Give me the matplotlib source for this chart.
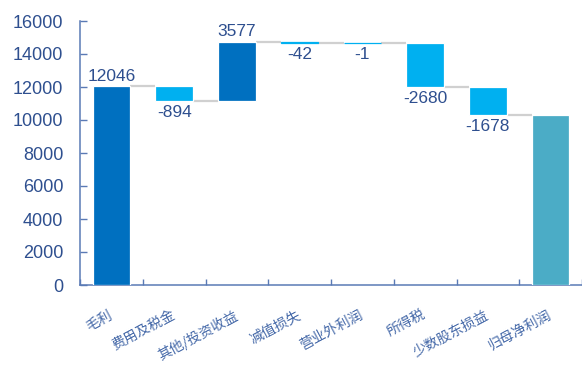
import matplotlib
matplotlib.use("Agg")
import matplotlib.pyplot as plt
import numpy as np

# 利润拆分瀑布图
categories = ["毛利", "费用及税金", "其他/投资收益", "减值损失",
              "营业外利润", "所得税", "少数股东损益", "归母净利润"]
changes = [12046, -894, 3577, -42, -1, -2680, -1678]
y_ticks = [0, 2000, 4000, 6000, 8000, 10000, 12000, 14000, 16000]

DARK = "#0070C0"
LIGHT = "#00B0F0"
TEAL = "#4BACC6"
TEXT = "#2E4F8F"
AXIS = "#5A7AB5"


def waterfall_parts(changes):
    bottoms, heights, colors = [], [], []
    total = 0
    for v in changes:
        if v >= 0:
            bottoms.append(total)
            heights.append(v)
            colors.append(DARK)
        else:
            bottoms.append(total + v)
            heights.append(-v)
            colors.append(LIGHT)
        total += v
    bottoms.append(0)
    heights.append(total)
    colors.append(TEAL)
    return bottoms, heights, colors, total


bottoms, heights, colors, final = waterfall_parts(changes)
x = np.arange(len(categories))
width = 0.6

fig = plt.figure(figsize=(5.82, 3.65), dpi=100)
ax = fig.add_axes([80 / 582, 80 / 365, 502 / 582, 264 / 365])

# very thin bars get an edge in their own colour so they stay visible
edges = [c if h < 200 else "white" for h, c in zip(heights, colors)]
ax.bar(x, heights, width, bottom=bottoms, color=colors,
       edgecolor=edges, linewidth=0.9, zorder=3)

# connector lines between neighbouring bars
running = np.cumsum(changes)
for i, level in enumerate(running):
    ax.plot([x[i] + width / 2, x[i + 1] - width / 2], [level, level],
            color="#D0D0D0", linewidth=1.6, zorder=2, solid_capstyle="butt")

# value labels
for i, v in enumerate(changes):
    if v >= 0:
        ax.text(x[i], bottoms[i] + heights[i] + 150, f"{v}", ha="center",
                va="bottom", fontsize=12.5, color=TEXT, family="Liberation Sans")
    else:
        ax.text(x[i], bottoms[i] - 250, f"{v}", ha="center", va="top",
                fontsize=12.5, color=TEXT, family="Liberation Sans")

ax.set_xlim(-0.5, len(categories) - 0.5)
ax.set_ylim(0, 16000)
ax.set_yticks(y_ticks)
ax.set_yticklabels([str(t) for t in y_ticks], fontsize=13, color=TEXT,
                   family="Liberation Sans")

ax.set_xticks(x)
ax.set_xticklabels(categories, rotation=28, ha="right", va="center",
                   rotation_mode="anchor", fontsize=10, color="#4468A8",
                   family=["Noto Sans CJK SC", "DejaVu Sans"])
ax.set_xticks(np.arange(-0.5, len(categories), 1.0), minor=True)
ax.tick_params(axis="x", which="major", length=0, pad=21)
ax.tick_params(axis="x", which="minor", direction="in", length=4,
               color=AXIS, width=1)
ax.tick_params(axis="y", direction="in", length=5, color=AXIS, width=1, pad=12)

for side in ["top", "right"]:
    ax.spines[side].set_visible(False)
for side in ["left", "bottom"]:
    ax.spines[side].set_color(AXIS)
    ax.spines[side].set_linewidth(1.1)

fig.savefig("out.png", dpi=100)
